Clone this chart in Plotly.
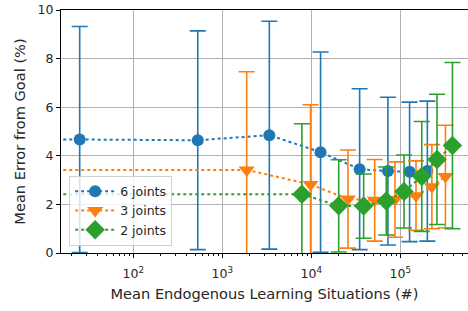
import plotly.graph_objects as go

# data
x6 = [25, 530, 3375, 12700, 34900, 72500, 127000, 201000]
y6 = [4.67, 4.64, 4.85, 4.15, 3.45, 3.37, 3.34, 3.37]
e6 = [4.65, 4.50, 4.69, 4.12, 3.31, 3.04, 2.87, 2.88]

x3 = [1880, 9800, 25800, 51500, 87000, 150000, 226000, 321000]
y3 = [3.42, 2.82, 2.22, 2.17, 2.20, 2.36, 2.73, 3.15]
e3 = [4.04, 3.28, 2.02, 1.68, 1.55, 1.43, 1.73, 2.11]

x2 = [7830, 20300, 38700, 69500, 110000, 174000, 258000, 385000]
y2 = [2.42, 1.94, 1.93, 2.14, 2.53, 3.15, 3.85, 4.42]
e2 = [2.90, 1.90, 1.32, 1.40, 1.50, 2.26, 2.68, 3.42]

# baseline (x = 0 in the source, drawn off to the left on the log axis)
x0 = 1

series = [
    ("6 joints", x6, y6, e6, "#1f77b4", "circle", 12),
    ("3 joints", x3, y3, e3, "#ff7f0e", "triangle-down", 14),
    ("2 joints", x2, y2, e2, "#2ca02c", "diamond", 15),
]

fig = go.Figure()
for name, xs, ys, es, col, sym, sz in series:
    fig.add_trace(go.Scatter(
        x=[x0, xs[0]], y=[ys[0], ys[0]], mode="lines",
        line=dict(color=col, width=2, dash="dot"), showlegend=False, hoverinfo="skip"))
    fig.add_trace(go.Scatter(
        x=xs, y=ys, mode="lines+markers", name=name,
        line=dict(color=col, width=2, dash="dot"),
        marker=dict(symbol=sym, size=sz, color=col),
        error_y=dict(type="data", array=es, visible=True, color=col, thickness=1.6, width=8),
    ))

font = "DejaVu Sans"
fig.update_layout(
    width=468, height=311,
    margin=dict(l=61, r=0, t=10, b=58),
    paper_bgcolor="white", plot_bgcolor="white",
    font=dict(family=font, size=12.5, color="#262626"),
    showlegend=True,
    legend=dict(x=0.02, y=0.03, xanchor="left", yanchor="bottom",
                bgcolor="rgba(255,255,255,0.8)", bordercolor="#d0d0d0", borderwidth=1,
                font=dict(size=12.5), tracegroupgap=0, itemwidth=40),
    xaxis=dict(
        type="log", range=[1.188, 5.76], automargin=False,
        tickvals=[100, 1000, 10000, 100000],
        ticktext=["10<sup>2</sup>", "10<sup>3</sup>", "10<sup>4</sup>", "10<sup>5</sup>"],
        ticks="outside", ticklen=4, tickcolor="black", ticklabelstandoff=5,
        showgrid=True, gridcolor="#b0b0b0", gridwidth=1,
        showline=True, linecolor="black", linewidth=1, mirror=True,
        zeroline=False,
        minor=dict(ticks="outside", ticklen=2, tickcolor="black", showgrid=False,
                   tickvals=[k * 10 ** p for p in range(1, 6) for k in range(2, 10)]),
        title=dict(text="Mean Endogenous Learning Situations (#)", standoff=8,
                   font=dict(size=14.6)),
    ),
    yaxis=dict(
        range=[0, 10], tickvals=[0, 2, 4, 6, 8, 10], automargin=False,
        ticks="outside", ticklen=4, tickcolor="black",
        showgrid=True, gridcolor="#b0b0b0", gridwidth=1,
        showline=True, linecolor="black", linewidth=1,
        zeroline=False,
        title=dict(text="Mean Error from Goal (%)", standoff=8, font=dict(size=14.6)),
    ),
)
fig.write_html("out.html", config={"displayModeBar": False},
               post_script="document.body.style.margin='0';")
